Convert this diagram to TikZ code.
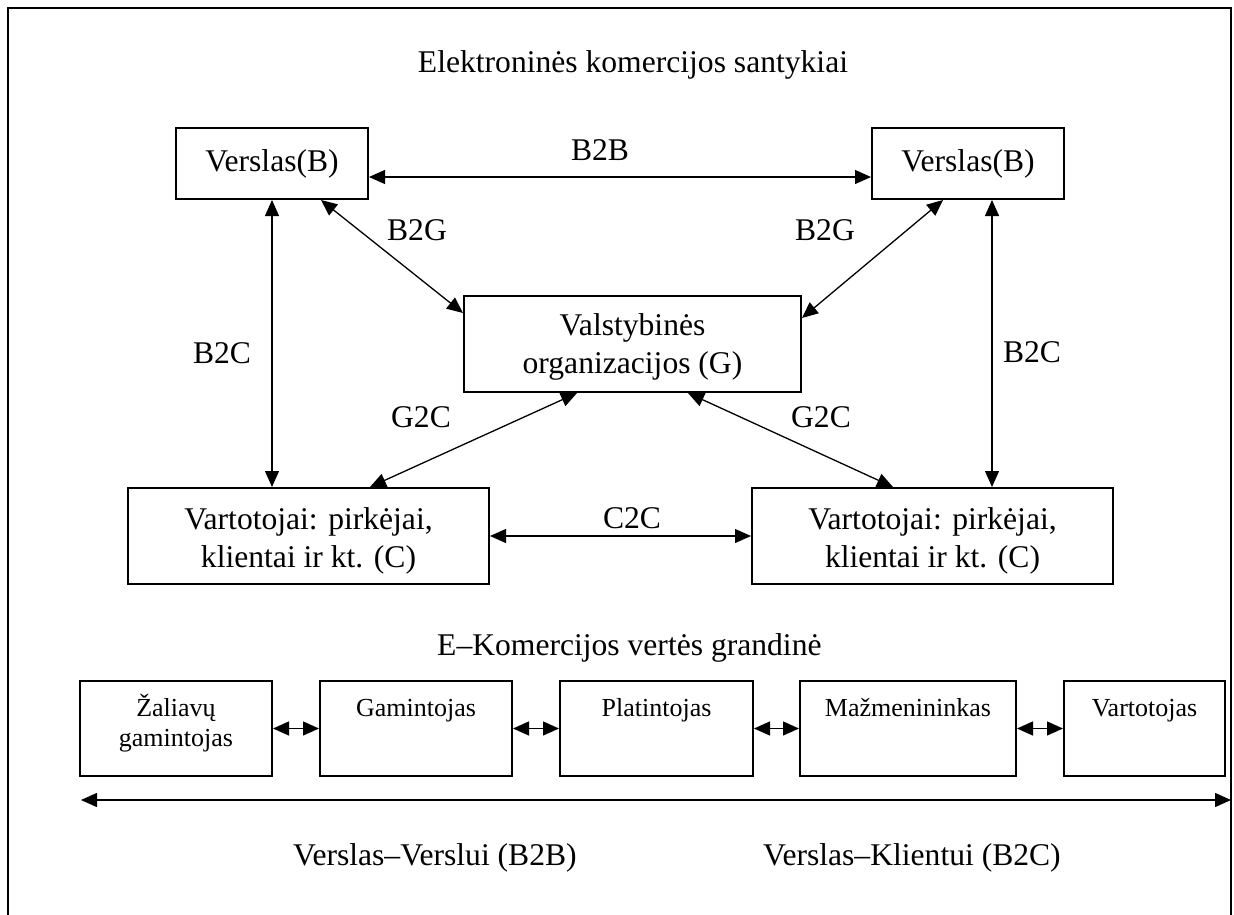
\documentclass[tikz,border=0pt]{standalone}
\usepackage{fontspec}
\setmainfont{Liberation Serif}
\usetikzlibrary{arrows.meta}
\newcommand\bigtxt{\fontsize{31.6bp}{38bp}\selectfont}
\newcommand\smalltxt{\fontsize{26bp}{30bp}\selectfont}
\begin{document}
\begin{tikzpicture}[x=1bp,y=-1bp,
  box/.style={draw, line width=2bp, inner sep=0pt, align=center, font=\bigtxt},
  chainbox/.style={draw, line width=2bp, inner sep=0pt, minimum height=95bp},
  chaintext/.style={anchor=north, inner sep=0pt, align=center, font=\smalltxt},
  lbl/.style={inner sep=0pt, font=\bigtxt},
  arr/.style={{Triangle[length=16bp,width=14bp]}-{Triangle[length=16bp,width=14bp]}, line width=1.3bp},
]
\useasboundingbox (0,0) rectangle (1234,915);

% outer frame (open at the bottom)
\draw[line width=2bp] (8,915) -- (8,8) -- (1231,8) -- (1231,915);

% title of the upper part
\node[lbl, anchor=base] (title) at (633,72) {Elektroninės komercijos santykiai};

% participants
\node[box, minimum width=192bp, minimum height=71bp] (B1) at (272,163.5) {Verslas(B)};
\node[box, minimum width=192bp, minimum height=71bp] (B2) at (968,163.5) {Verslas(B)};
\node[box, minimum width=337bp, minimum height=96bp] (G) at (632.5,344)
  {\rule{0pt}{27bp}Valstybinės\\organizacijos (G)};
\node[box, minimum width=361bp, minimum height=96bp] (C1) at (308.5,536)
  {\rule{0pt}{32bp}Vartotojai: pirkėjai,\\klientai ir kt. (C)};
\node[box, minimum width=361bp, minimum height=96bp] (C2) at (932.5,536)
  {\rule{0pt}{32bp}Vartotojai: pirkėjai,\\klientai ir kt. (C)};

% relations
\draw[arr] ([yshift=-13.5bp]B1.east) -- ([yshift=-13.5bp]B1.east -| B2.west);
\draw[arr] (B1.south) -- (B1.south |- C1.north);
\draw[arr] ([xshift=24bp]B2.south) -- ([xshift=24bp]B2.south |- C2.north);
\draw[arr] ([xshift=49bp]B1.south) -- ([yshift=31bp]G.west);
\draw[arr] ([xshift=-25bp]B2.south) -- ([yshift=26bp]G.east);
\draw[arr] ([xshift=-55.5bp]G.south) -- ([xshift=61.5bp]C1.north);
\draw[arr] ([xshift=55.5bp]G.south) -- ([xshift=-39.5bp]C2.north);
\draw[arr] (C1.east) -- (C2.west);

% relation labels
\node[lbl] (lB2B) at (600,150) {B2B};
\node[lbl] (lB2Ga) at (417,230) {B2G};
\node[lbl] (lB2Gb) at (825,230) {B2G};
\node[lbl] (lB2Ca) at (222,353) {B2C};
\node[lbl] (lB2Cb) at (1032,352) {B2C};
\node[lbl] (lG2Ca) at (421,417) {G2C};
\node[lbl] (lG2Cb) at (821,417) {G2C};
\node[lbl] (lC2C) at (632,518) {C2C};

% value chain
\node[lbl, anchor=base west] (chain) at (437,655) {E–Komercijos vertės grandinė};

\node[chainbox, minimum width=192bp] (P1) at (176,728.5) {};
\node[chainbox, minimum width=192bp] (P2) at (416,728.5) {};
\node[chainbox, minimum width=193bp] (P3) at (656.5,728.5) {};
\node[chainbox, minimum width=216bp] (P4) at (908,728.5) {};
\node[chainbox, minimum width=161bp] (P5) at (1144.5,728.5) {};

\node[chaintext] (t1) at ([yshift=-12bp]P1.north) {\rule{0pt}{24bp}Žaliavų\\gamintojas};
\node[chaintext] (t2) at ([yshift=-12bp]P2.north) {\rule{0pt}{24bp}Gamintojas};
\node[chaintext] (t3) at ([yshift=-12bp]P3.north) {\rule{0pt}{24bp}Platintojas};
\node[chaintext] (t4) at ([yshift=-12bp]P4.north) {\rule{0pt}{24bp}Mažmenininkas};
\node[chaintext] (t5) at ([yshift=-12bp]P5.north) {\rule{0pt}{24bp}Vartotojas};

\draw[arr] (P1.east) -- (P2.west);
\draw[arr] (P2.east) -- (P3.west);
\draw[arr] (P3.east) -- (P4.west);
\draw[arr] (P4.east) -- (P5.west);

% span of the whole chain
\coordinate (spanL) at (81,800);
\coordinate (spanR) at (1231,800);
\draw[arr, line width=1.5bp] (spanL) -- (spanR);

\node[lbl, anchor=base west] (b2b) at (293,865) {Verslas–Verslui (B2B)};
\node[lbl, anchor=base west] (b2c) at (763,865) {Verslas–Klientui (B2C)};
\end{tikzpicture}
\end{document}
